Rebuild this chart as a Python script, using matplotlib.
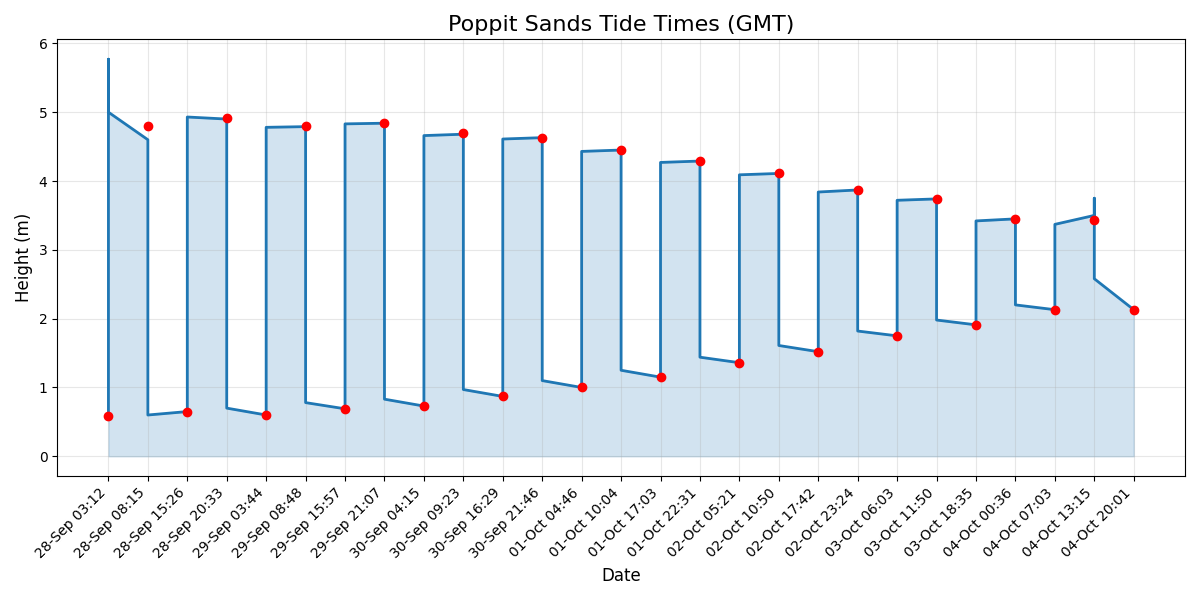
import matplotlib
matplotlib.use("Agg")
import matplotlib.pyplot as plt

# tide times (GMT) and heights (m) at each high/low water
tide_labels = [
    "28-Sep 03:12", "28-Sep 08:15", "28-Sep 15:26", "28-Sep 20:33",
    "29-Sep 03:44", "29-Sep 08:48", "29-Sep 15:57", "29-Sep 21:07",
    "30-Sep 04:15", "30-Sep 09:23", "30-Sep 16:29", "30-Sep 21:46",
    "01-Oct 04:46", "01-Oct 10:04", "01-Oct 17:03", "01-Oct 22:31",
    "02-Oct 05:21", "02-Oct 10:50", "02-Oct 17:42", "02-Oct 23:24",
    "03-Oct 06:03", "03-Oct 11:50", "03-Oct 18:35", "04-Oct 00:36",
    "04-Oct 07:03", "04-Oct 13:15", "04-Oct 20:01",
]
tide_heights = [
    0.58, 4.80, 0.65, 4.92, 0.60, 4.80, 0.69, 4.85, 0.73, 4.70,
    0.87, 4.63, 1.00, 4.45, 1.15, 4.29, 1.36, 4.11, 1.52, 3.87,
    1.75, 3.74, 1.91, 3.45, 2.13, 3.43, 2.13,
]

# curve height at the start / end of each interval between tides
curve_start = [
    5.00, 0.60, 4.93, 0.70, 4.78, 0.78, 4.83, 0.83, 4.66, 0.97,
    4.61, 1.10, 4.43, 1.25, 4.27, 1.44, 4.09, 1.61, 3.84, 1.82,
    3.72, 1.98, 3.42, 2.20, 3.37, 2.58,
]
curve_end = [
    4.60, 0.65, 4.90, 0.60, 4.79, 0.69, 4.84, 0.73, 4.68, 0.87,
    4.63, 1.00, 4.45, 1.15, 4.29, 1.36, 4.11, 1.52, 3.87, 1.75,
    3.74, 1.91, 3.45, 2.13, 3.50, 2.13,
]
# overshoot spikes of the curve at some tide indices
spike_idx = [0, 25]
spike_val = [5.77, 3.75]

spikes = dict(zip(spike_idx, spike_val))
xs = [0]
ys = [tide_heights[0]]
for i, (a, b) in enumerate(zip(curve_start, curve_end)):
    if i in spikes:
        xs.append(i)
        ys.append(spikes[i])
    xs += [i, i + 1]
    ys += [a, b]

pos = list(range(len(tide_labels)))

fig, ax = plt.subplots(figsize=(12, 6), dpi=100)
ax.plot(xs, ys, color="#1f77b4", linewidth=2)
ax.fill_between(xs, 0, ys, color="#1f77b4", alpha=0.2)
ax.plot(pos, tide_heights, "o", color="red", markersize=6)

ax.set_xticks(pos)
ax.set_xticklabels(tide_labels, rotation=45, ha="right")
ax.set_title("Poppit Sands Tide Times (GMT)", fontsize=16)
ax.set_xlabel("Date", fontsize=12)
ax.set_ylabel("Height (m)", fontsize=12)
ax.grid(True, alpha=0.3)

fig.tight_layout()
fig.savefig("out.png")
